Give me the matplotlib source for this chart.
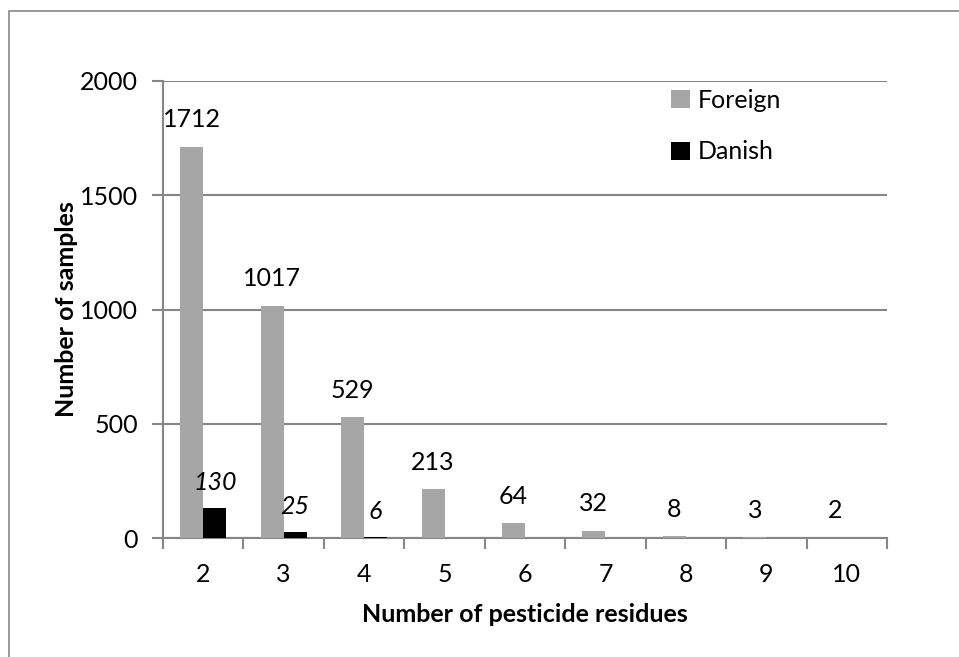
import numpy as np
import matplotlib
matplotlib.use("Agg")
import matplotlib.pyplot as plt
from matplotlib.patches import Rectangle

plt.rcParams["font.family"] = ["Lato", "DejaVu Sans"]

# data
residues = ["2", "3", "4", "5", "6", "7", "8", "9", "10"]
foreign = [1712, 1017, 529, 213, 64, 32, 8, 3, 2]
danish = [130, 25, 6, 0, 0, 0, 0, 0, 0]
y_ticks = [0, 500, 1000, 1500, 2000]

GREY = "#a6a6a6"
AXIS = "#868686"
FS = 18

fig = plt.figure(figsize=(9.59, 6.57), dpi=100)
W, H = 959, 657
ax = fig.add_axes([163 / W, 1 - 538 / H, (887 - 163) / W, (538 - 81) / H])

# outer chart border (cut off at right and bottom)
fig.patches.append(Rectangle((9 / W, -0.1), 1.2, 1 - 11 / H + 0.1,
                             transform=fig.transFigure, fill=False,
                             edgecolor=AXIS, lw=1.2, zorder=0))

x = np.arange(len(residues))
w = 0.286
b1 = ax.bar(x - w / 2, foreign, w, color=GREY, label="Foreign", zorder=3)
b2 = ax.bar(x + w / 2, danish, w, color="black", label="Danish", zorder=3)

for xi, v in zip(x, foreign):
    ax.annotate(str(v), (xi - w / 2, v), xytext=(0, 14), textcoords="offset points",
                ha="center", va="baseline", fontsize=FS)
for xi, v in zip(x, danish):
    if v > 0:
        ax.annotate(str(v), (xi + w / 2, v), xytext=(0, 13), textcoords="offset points",
                    ha="center", va="baseline", fontsize=FS, style="italic")

ax.set_xlim(-0.5, len(residues) - 0.5)
ax.set_ylim(0, 2000)
ax.set_yticks(y_ticks)
ax.set_yticklabels([str(t) for t in y_ticks], fontsize=FS)
ax.set_xticks(x)
ax.set_xticklabels(residues, fontsize=FS)
ax.set_xticks(np.arange(len(residues) + 1) - 0.5, minor=True)
ax.tick_params(axis="x", which="major", length=0, pad=18)
ax.tick_params(axis="x", which="minor", length=8, width=1.5, color=AXIS, direction="out")
ax.tick_params(axis="y", length=8, width=1.5, color=AXIS, pad=10)

ax.grid(axis="y", color=AXIS, lw=1.5, zorder=0)
for s in ["top", "right"]:
    ax.spines[s].set_visible(False)
for s in ["left", "bottom"]:
    ax.spines[s].set_color(AXIS)
    ax.spines[s].set_linewidth(1.5)

ax.set_ylabel("Number of samples", fontsize=FS, fontweight="bold", labelpad=1)
ax.set_xlabel("Number of pesticide residues", fontsize=FS, fontweight="bold", labelpad=12)

ax.legend(loc="upper left", bbox_to_anchor=(498 / 724, 1.005), frameon=False,
          fontsize=FS, handlelength=0.75, handleheight=0.75, handletextpad=0.3,
          labelspacing=1.15, borderaxespad=0)

fig.savefig("out.png", dpi=100)
